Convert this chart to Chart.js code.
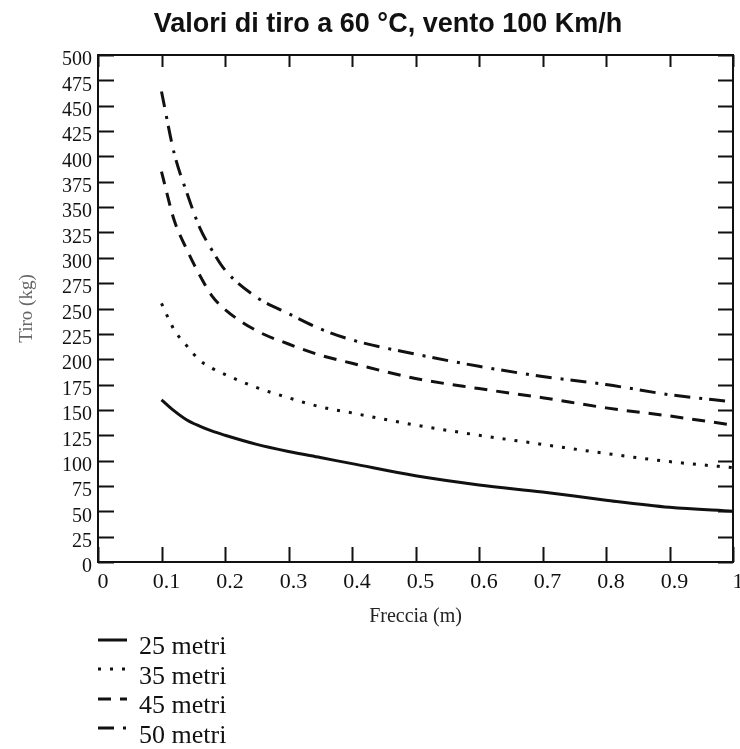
<!DOCTYPE html>
<html>
<head>
<meta charset="utf-8">
<script src="https://cdn.jsdelivr.net/npm/chart.js@4"></script>
<style>
  body { margin: 0; background: #fff; }
  #wrap { position: relative; width: 740px; height: 749px; }
  #title {
    position: absolute; left: 388px; top: 9px; transform: translateX(-50%);
    white-space: nowrap; font: bold 27px "Liberation Sans", Arial, sans-serif;
    line-height: 28px; color: #111;
  }
  #customLegend { position: absolute; left: 97px; top: 631px; }
  #customLegend ul { list-style: none; margin: 0; padding: 0; }
  #customLegend li { display: flex; align-items: center; height: 29.5px; }
  #customLegend svg { flex: none; margin-right: 10px; }
  #customLegend p {
    margin: 0; font: 26px "Liberation Serif", "Times New Roman", serif;
    line-height: 29px; color: #111;
  }
</style>
</head>
<body>
<div id="wrap">
  <canvas id="tiroChart"></canvas>
  <div id="title">Valori di tiro a 60 °C, vento 100 Km/h</div>
  <div id="tiroLegend"></div>
</div>
<script>
// freccia (m) on the x axis
const freccia = [0.1, 0.12, 0.14, 0.16, 0.18, 0.2, 0.25, 0.3, 0.35, 0.4, 0.5, 0.6, 0.7, 0.8, 0.9, 1.0];

// tiro (kg) for each span
const tiro25 = [160, 149, 140, 134, 129, 125, 116, 109, 103, 97, 85, 76, 69, 61, 54, 50];
const tiro35 = [255, 229, 213, 199, 191, 185, 172, 162, 153, 147, 135, 125, 116, 107, 99, 93];
const tiro45 = [385, 337, 308, 283, 262, 249, 228, 215, 204, 196, 181, 171, 162, 152, 144, 135];
const tiro50 = [464, 403, 364, 330, 307, 288, 261, 245, 230, 219, 205, 193, 183, 175, 165, 158];

const seriesNames = ["25 metri", "35 metri", "45 metri", "50 metri"];
const seriesValues = [tiro25, tiro35, tiro45, tiro50];
const seriesDash = [[], [3, 9], [13, 9], [16, 9, 3, 7]];

const serif = '"Liberation Serif", "Times New Roman", serif';

// box around the plot with ticks pointing inward on all four sides
const boxTicks = {
  id: "boxTicks",
  afterDatasetsDraw(chart) {
    const { ctx, chartArea: a, scales } = chart;
    ctx.save();
    ctx.strokeStyle = "#111";
    ctx.lineWidth = 2;
    ctx.strokeRect(a.left, a.top, a.right - a.left, a.bottom - a.top);
    ctx.beginPath();
    scales.x.ticks.forEach((t) => {
      const px = Math.round(scales.x.getPixelForValue(t.value)) + 0.5;
      ctx.moveTo(px, a.bottom);
      ctx.lineTo(px, a.bottom - 15);
      ctx.moveTo(px, a.top);
      ctx.lineTo(px, a.top + 12);
    });
    scales.y.ticks.forEach((t) => {
      const py = Math.round(scales.y.getPixelForValue(t.value)) + 0.5;
      ctx.moveTo(a.left, py);
      ctx.lineTo(a.left + 16, py);
      ctx.moveTo(a.right, py);
      ctx.lineTo(a.right - 15, py);
    });
    ctx.stroke();
    ctx.restore();
  },
};

function generateLegend(locationID, chart) {
  const location = document.getElementById(locationID);
  const div = document.createElement("DIV");
  div.setAttribute("id", "customLegend");
  const ul = document.createElement("UL");

  chart.data.datasets.forEach((dataset) => {
    const li = document.createElement("LI");
    const svg = document.createElementNS("http://www.w3.org/2000/svg", "svg");
    svg.setAttribute("width", "32");
    svg.setAttribute("height", "30");
    const line = document.createElementNS("http://www.w3.org/2000/svg", "line");
    line.setAttribute("x1", "1");
    line.setAttribute("x2", "30");
    line.setAttribute("y1", "9");
    line.setAttribute("y2", "9");
    line.setAttribute("stroke", dataset.borderColor);
    line.setAttribute("stroke-width", "3");
    if (dataset.borderDash.length) line.setAttribute("stroke-dasharray", dataset.borderDash.join(" "));
    svg.appendChild(line);

    const p = document.createElement("P");
    p.appendChild(document.createTextNode(dataset.label));

    li.appendChild(svg);
    li.appendChild(p);
    ul.appendChild(li);
  });

  div.appendChild(ul);
  location.appendChild(div);
}

const datasets = seriesNames.map((name, i) => ({
  label: name,
  data: freccia.map((x, j) => ({ x: x, y: seriesValues[i][j] })),
  borderColor: "#111",
  borderWidth: 3,
  borderDash: seriesDash[i],
  pointRadius: 0,
  fill: false,
  cubicInterpolationMode: "monotone",
}));

const tiroChart = new Chart(document.getElementById("tiroChart"), {
  type: "line",
  data: { datasets: datasets },
  options: {
    responsive: true,
    maintainAspectRatio: false,
    animation: false,
    layout: { padding: { top: 55, right: 7, bottom: 117, left: 0 } },
    plugins: {
      legend: { display: false },
      tooltip: { enabled: false },
    },
    scales: {
      x: {
        type: "linear",
        min: 0,
        max: 1,
        grid: { display: false, drawTicks: false },
        border: { display: false },
        ticks: {
          stepSize: 0.1,
          padding: 7,
          labelOffset: 5,
          maxRotation: 0,
          autoSkip: false,
          color: "#111",
          font: { family: serif, size: 22 },
          callback: (value) => String(Number(value.toFixed(1))),
        },
        title: {
          display: true,
          text: "Freccia (m)",
          color: "#222",
          font: { family: serif, size: 20 },
          padding: { top: 0, bottom: 3 },
        },
        afterFit(scale) {
          scale.height = 70;
          scale.paddingLeft = 0;
          scale.paddingRight = 0;
        },
      },
      y: {
        min: 0,
        max: 500,
        grid: { display: false, drawTicks: false },
        border: { display: false },
        ticks: {
          stepSize: 25,
          autoSkip: false,
          padding: 6,
          labelOffset: 5,
          color: "#111",
          font: { family: serif, size: 20 },
        },
        title: {
          display: true,
          text: "Tiro (kg)",
          color: "#666",
          font: { family: serif, size: 19 },
          padding: { top: 16, bottom: 0 },
        },
        afterFit(scale) {
          scale.width = 98;
          scale.paddingTop = 0;
          scale.paddingBottom = 0;
        },
      },
    },
  },
  plugins: [boxTicks],
});

generateLegend("tiroLegend", tiroChart);
</script>
</body>
</html>
